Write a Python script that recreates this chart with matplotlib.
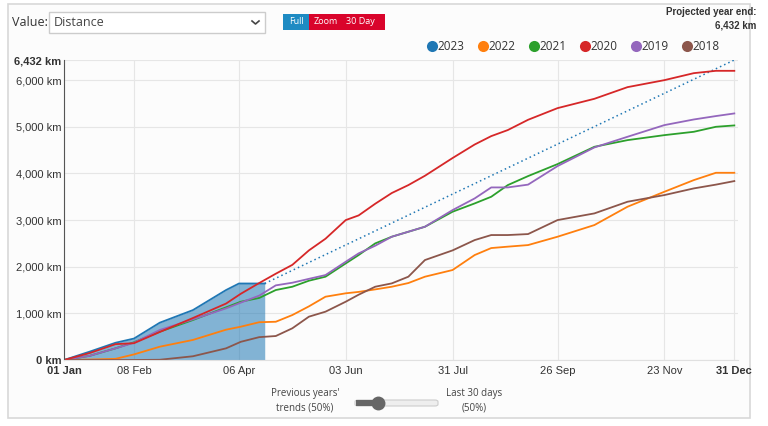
import matplotlib.pyplot as plt
from matplotlib.patches import Rectangle, FancyBboxPatch
from matplotlib.lines import Line2D

# day-of-year sample points
days = [0, 14, 28, 38, 52, 70, 88, 96, 106, 115, 124, 133, 142, 153, 160,
        169, 178, 187, 196, 211, 223, 232, 241, 252, 268, 288, 306, 326,
        342, 354, 364]

km_2020 = [0, 150, 340, 360, 600, 900, 1210, 1420, 1650, 1850, 2040, 2350,
           2600, 3000, 3100, 3350, 3580, 3750, 3950, 4330, 4620, 4800, 4930,
           5150, 5400, 5600, 5850, 6000, 6150, 6200, 6200]
km_2019 = [0, 90, 250, 370, 643, 871, 1107, 1230, 1380, 1600, 1657, 1740,
           1821, 2107, 2286, 2450, 2643, 2750, 2857, 3214, 3464, 3700, 3700,
           3760, 4157, 4557, 4786, 5036, 5157, 5230, 5286]
km_2021 = [0, 90, 250, 380, 607, 857, 1129, 1250, 1330, 1500, 1571, 1700,
           1786, 2071, 2250, 2500, 2643, 2750, 2857, 3179, 3357, 3500, 3750,
           3943, 4200, 4571, 4714, 4821, 4893, 5000, 5029]
km_2022 = [0, 10, 25, 120, 285, 430, 650, 714, 810, 820, 964, 1150, 1357,
           1430, 1460, 1514, 1571, 1650, 1786, 1929, 2250, 2400, 2430, 2464,
           2643, 2893, 3286, 3607, 3857, 4014, 4014]
km_2018 = [0, 0, 0, 0, 5, 80, 250, 390, 490, 514, 680, 929, 1036, 1250,
           1400, 1571, 1643, 1786, 2143, 2350, 2571, 2679, 2679, 2700, 3000,
           3143, 3393, 3536, 3679, 3760, 3836]

days_2023 = [0, 14, 28, 38, 52, 70, 88, 95, 109]
km_2023 = [0, 180, 370, 460, 800, 1070, 1500, 1640, 1640]

projected_end = 6432
year_end_day = 364

tick_days = [0, 38, 95, 153, 211, 268, 326, 364]
tick_labels = ["01 Jan", "08 Feb", "06 Apr", "03 Jun", "31 Jul", "26 Sep",
               "23 Nov", "31 Dec"]
y_ticks = [0, 1000, 2000, 3000, 4000, 5000, 6000, 6432]

series = [("2023", "#1f77b4"), ("2022", "#ff7f0e"), ("2021", "#2ca02c"),
          ("2020", "#d62728"), ("2019", "#9467bd"), ("2018", "#8c564b")]

W, H = 768, 426
plt.rcParams["font.family"] = ["Liberation Sans", "DejaVu Sans"]
UI_FONT = ["Open Sans", "DejaVu Sans"]
fig = plt.figure(figsize=(W / 100, H / 100), dpi=100)
fig.patch.set_facecolor("white")


def fx(x):
    return x / W


def fy(y):
    return 1 - y / H


def box(x0, y0, x1, y1, **kw):
    fig.patches.append(Rectangle((fx(x0), fy(y1)), fx(x1) - fx(x0), fy(y0) - fy(y1),
                                 transform=fig.transFigure, **kw))


def dot(x, y, size, colour):
    fig.lines.append(Line2D([fx(x)], [fy(y)], transform=fig.transFigure,
                            marker="o", ms=size, color=colour, mec="none", ls=""))


# outer panel frame
box(8, 4, 750, 418, facecolor="#fcfcfc", edgecolor="#d8d8d8", lw=1.2, zorder=-10)

ax = fig.add_axes([fx(64), fy(360), fx(738) - fx(64), fy(60) - fy(360)])
ax.set_facecolor("#fcfcfc")

ax.fill_between(days_2023, km_2023, color="#1f77b4", alpha=0.55, lw=0)
ax.plot(days_2023, km_2023, color="#1f77b4", lw=1.3)
ax.plot([days_2023[-1], year_end_day], [km_2023[-1], projected_end],
        color="#1f77b4", lw=1.1, ls=(0, (1, 2)))

for name, values in [("2022", km_2022), ("2021", km_2021), ("2019", km_2019),
                     ("2018", km_2018), ("2020", km_2020)]:
    ax.plot(days, values, color=dict(series)[name], lw=1.3)

ax.set_xlim(0, 366)
ax.set_ylim(0, projected_end)
ax.set_xticks(tick_days)
ax.set_xticklabels(tick_labels)
ax.set_yticks(y_ticks)
ax.set_yticklabels([f"{v:,} km" for v in y_ticks])
ax.tick_params(axis="both", labelsize=8, colors="#333333", length=0)
ax.tick_params(axis="x", pad=4)
ax.tick_params(axis="y", pad=2)
for i in (0, len(tick_days) - 1):
    ax.get_xticklabels()[i].set_fontweight("bold")
for i in (0, len(y_ticks) - 1):
    ax.get_yticklabels()[i].set_fontweight("bold")

ax.grid(True, color="#e6e6e6", lw=0.8)
ax.set_axisbelow(True)
for side in ("top", "right"):
    ax.spines[side].set_visible(False)
ax.spines["left"].set_color("#555555")
ax.spines["bottom"].set_color("#e0e0e0")

# top controls
fig.text(fx(12), fy(22), "Value:", fontsize=9, color="#333333",
         va="center", family=UI_FONT)
box(49, 12, 265, 33, facecolor="white", edgecolor="#cccccc", lw=1)
fig.text(fx(54), fy(22.5), "Distance", fontsize=9, color="#444444",
         va="center", family=UI_FONT)
fig.lines.append(Line2D([fx(252), fx(255.5), fx(259)], [fy(21), fy(24), fy(21)],
                        transform=fig.transFigure, color="#444444", lw=1.2))

box(283, 14, 309, 30, facecolor="#1e8bc3", edgecolor="none")
box(309, 14, 385, 30, facecolor="#d9042b", edgecolor="none")
for x, label in [(296, "Full"), (326, "Zoom"), (360, "30 Day")]:
    fig.text(fx(x), fy(22), label, fontsize=6.5, color="white", ha="center",
             va="center", family=UI_FONT)

fig.text(fx(756), fy(12), "Projected year end:", fontsize=7, fontweight="bold",
         color="#333333", ha="right", va="center")
fig.text(fx(756), fy(25), f"{projected_end:,} km", fontsize=7, fontweight="bold",
         color="#333333", ha="right", va="center")

# legend
legend_x = [432, 483, 534, 585, 636, 687]
for (name, colour), x in zip(series, legend_x):
    dot(x, 46, 8, colour)
    fig.text(fx(x + 5), fy(46), name, fontsize=8.5, color="#333333",
             va="center", family=UI_FONT)

# weighting slider
fig.text(fx(305), fy(401), "Previous years'\ntrends (50%)", fontsize=7,
         color="#444444", ha="center", va="center", linespacing=1.5,
         family=UI_FONT)
fig.text(fx(474), fy(401), "Last 30 days\n(50%)", fontsize=7,
         color="#444444", ha="center", va="center", linespacing=1.5,
         family=UI_FONT)
fig.patches.append(FancyBboxPatch((fx(355), fy(406)), fx(438) - fx(355), fy(400) - fy(406),
                                  boxstyle="round,pad=0,rounding_size=0.004",
                                  transform=fig.transFigure, facecolor="#eeeeee",
                                  edgecolor="#cccccc", lw=0.8))
box(356, 400, 378, 406, facecolor="#666666", edgecolor="none")
dot(378, 403, 10, "#666666")

fig.savefig("out.png", dpi=100)
